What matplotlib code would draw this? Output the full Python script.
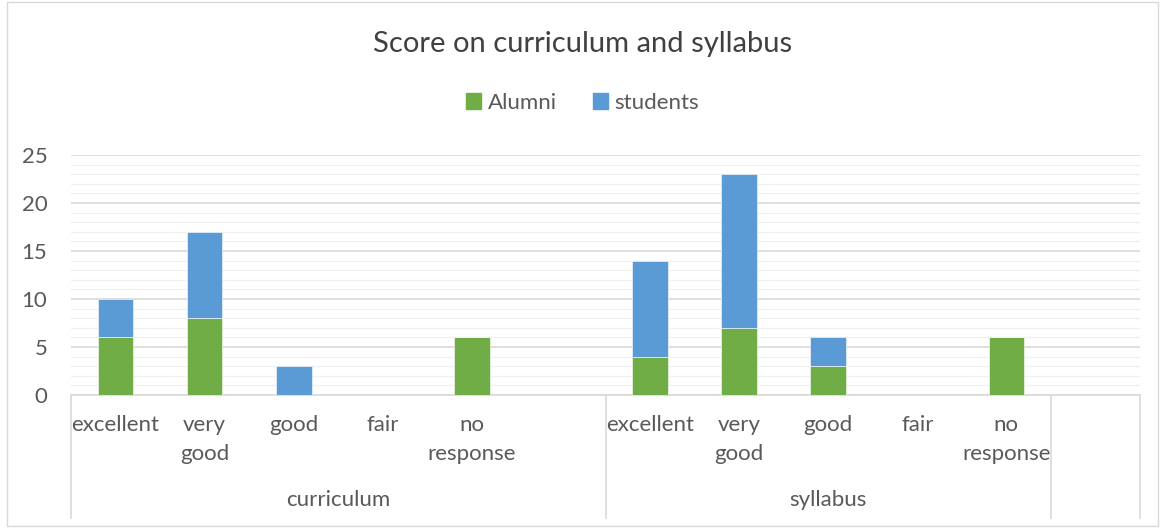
import numpy as np
import matplotlib
matplotlib.use('Agg')
from matplotlib import pyplot as plt
from matplotlib.patches import Patch, Rectangle
import matplotlib.transforms as mtransforms

plt.rcParams['font.family'] = ['Lato', 'DejaVu Sans']

groups = ['curriculum', 'syllabus']
levels = ['excellent', 'very\ngood', 'good', 'fair', 'no\nresponse']
alumni = [6, 8, 0, 0, 6, 0, 4, 7, 3, 0, 6, 0]
students = [4, 9, 3, 0, 0, 0, 10, 16, 3, 0, 0, 0]
labels = levels + [''] + levels + ['']

green = '#70AD47'
blue = '#5B9BD5'
txt = '#595959'
grid = '#d9d9d9'

fig = plt.figure(figsize=(11.65, 5.28), dpi=100)
ax = fig.add_axes([71 / 1165, 1 - 395 / 528, (1140 - 71) / 1165, 240 / 528])

x = np.arange(len(labels))
ax.bar(x, alumni, width=0.4, color=green, edgecolor='white', linewidth=0.4, zorder=3, label='Alumni')
ax.bar(x, students, width=0.4, bottom=alumni, color=blue, edgecolor='white', linewidth=0.4, zorder=3,
       label='students')

ax.set_xlim(-0.5, len(labels) - 0.5)
ax.set_ylim(0, 25)
ax.set_yticks(np.arange(0, 26, 5))
ax.set_yticks(np.arange(0, 26, 1), minor=True)
ax.grid(axis='y', which='major', color=grid, linewidth=1.2, zorder=0)
ax.grid(axis='y', which='minor', color='#f0f0f0', linewidth=1.0, zorder=0)
ax.tick_params(axis='y', which='both', length=0, labelsize=16, labelcolor=txt, pad=17)
ax.set_xticks([])
for s in ['top', 'right', 'left']:
    ax.spines[s].set_visible(False)
ax.spines['bottom'].set_color(grid)
ax.spines['bottom'].set_linewidth(1.2)

trans = mtransforms.blended_transform_factory(ax.transData, ax.transAxes)
for xi, lab in zip(x, labels):
    ax.text(xi, -0.085, lab, transform=trans, ha='center', va='top', fontsize=16,
            color=txt, linespacing=1.55)

# group labels and separators
ax.text(2.5, -0.4375, groups[0], transform=trans, ha='center', va='center', fontsize=16, color=txt)
ax.text(8, -0.4375, groups[1], transform=trans, ha='center', va='center', fontsize=16, color=txt)
for xs in [-0.5, 5.5, 10.5, 11.5]:
    ax.plot([xs, xs], [0, -0.5125], transform=trans, color=grid, linewidth=1.2, clip_on=False)

fig.text(0.5, 1 - 44 / 528, 'Score on curriculum and syllabus', ha='center', va='center',
         fontsize=21, color='#404040')
handles = [Patch(color=green, label='Alumni'), Patch(color=blue, label='students')]
fig.legend(handles=handles, loc='center', bbox_to_anchor=(0.5, 1 - 103 / 528), ncol=2, frameon=False,
           fontsize=16, labelcolor=txt, handlelength=0.7, handleheight=0.7, handletextpad=0.3,
           columnspacing=1.6)

fig.patches.append(Rectangle((7 / 1165, 0.003), 1 - 14 / 1165, 0.994, transform=fig.transFigure,
                             fill=False, edgecolor=grid, linewidth=1.0))

fig.savefig('out.png', dpi=100)
